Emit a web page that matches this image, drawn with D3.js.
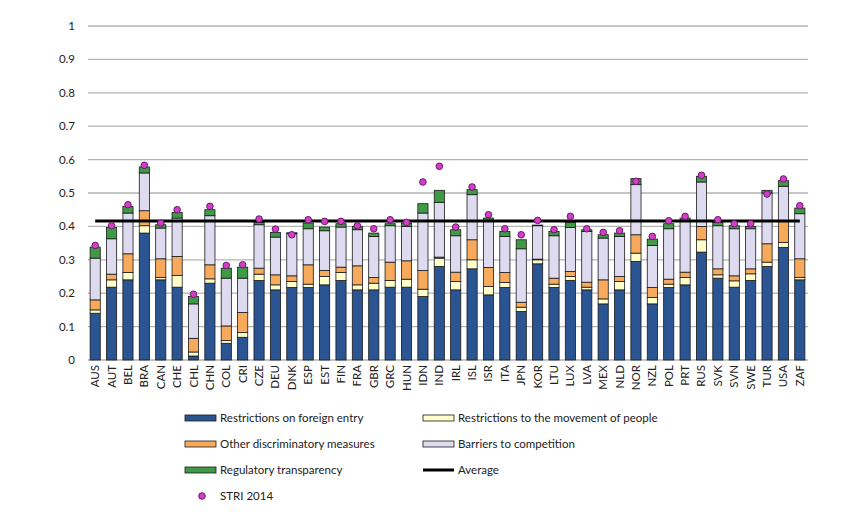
<!DOCTYPE html>
<html><head><meta charset="utf-8">
<script src="https://cdn.jsdelivr.net/npm/d3@7"></script>
<style>body{margin:0;background:#fff;} text{font-family:Lato, "Open Sans", sans-serif;}</style>
</head><body><svg id="c" width="868" height="512"></svg>
<script>
const countries = ["AUS","AUT","BEL","BRA","CAN","CHE","CHL","CHN","COL","CRI","CZE","DEU","DNK","ESP","EST","FIN","FRA","GBR","GRC","HUN","IDN","IND","IRL","ISL","ISR","ITA","JPN","KOR","LTU","LUX","LVA","MEX","NLD","NOR","NZL","POL","PRT","RUS","SVK","SVN","SWE","TUR","USA","ZAF"];
const foreignEntry = [0.14,0.218,0.24,0.38,0.24,0.218,0.012,0.23,0.05,0.068,0.238,0.21,0.217,0.217,0.225,0.238,0.21,0.21,0.218,0.218,0.19,0.28,0.21,0.273,0.195,0.217,0.145,0.288,0.217,0.238,0.21,0.168,0.21,0.295,0.168,0.217,0.225,0.323,0.245,0.218,0.238,0.28,0.337,0.24];
const movementPeople = [0.01,0.022,0.022,0.022,0.007,0.035,0.012,0.013,0.008,0.014,0.019,0.015,0.018,0.01,0.025,0.024,0.015,0.02,0.02,0.024,0.022,0.025,0.025,0.027,0.025,0.015,0.013,0.012,0.01,0.012,0.008,0.015,0.025,0.025,0.019,0.01,0.022,0.037,0.01,0.019,0.02,0.013,0.015,0.007];
const otherDiscrim = [0.03,0.017,0.056,0.045,0.056,0.057,0.041,0.042,0.044,0.06,0.018,0.03,0.017,0.058,0.018,0.016,0.057,0.017,0.055,0.055,0.056,0.003,0.028,0.06,0.057,0.03,0.015,0.002,0.018,0.015,0.015,0.057,0.015,0.055,0.03,0.015,0.016,0.04,0.018,0.015,0.015,0.055,0.063,0.056];
const competition = [0.125,0.106,0.122,0.113,0.092,0.115,0.103,0.147,0.143,0.103,0.13,0.113,0.126,0.108,0.119,0.12,0.108,0.123,0.109,0.103,0.172,0.164,0.109,0.135,0.138,0.108,0.16,0.1,0.127,0.132,0.152,0.125,0.12,0.15,0.126,0.151,0.152,0.133,0.129,0.141,0.12,0.152,0.105,0.135];
const transparency = [0.033,0.034,0.02,0.018,0.01,0.017,0.022,0.018,0.03,0.033,0.007,0.014,0.003,0.017,0.011,0.01,0.01,0.01,0.006,0.01,0.028,0.036,0.018,0.015,0.01,0.015,0.027,0.002,0.013,0.015,0.005,0.01,0.01,0.018,0.019,0.015,0.01,0.017,0.01,0.009,0.007,0.008,0.017,0.017];
const stri2014 = [0.343,0.402,0.465,0.583,0.41,0.45,0.197,0.46,0.283,0.285,0.422,0.392,0.375,0.42,0.415,0.415,0.402,0.393,0.42,0.412,0.533,0.58,0.398,0.518,0.435,0.393,0.375,0.418,0.39,0.43,0.393,0.382,0.387,0.535,0.37,0.417,0.43,0.553,0.42,0.408,0.408,0.497,0.542,0.462];
const average = 0.416;
const yTicks = [0,0.1,0.2,0.3,0.4,0.5,0.6,0.7,0.8,0.9,1];
const seriesNames = ["Restrictions on foreign entry","Restrictions to the movement of people","Other discriminatory measures","Barriers to competition","Regulatory transparency"];
const seriesColors = ["#2b5592","#ffffcc","#f8aa5c","#dedaf0","#3f9a46"];
const seriesData = [foreignEntry, movementPeople, otherDiscrim, competition, transparency];

const svg = d3.select("#c");
const x = d3.scaleBand().domain(countries).range([87, 808]).paddingInner(0.38).paddingOuter(0.19);
const y = d3.scaleLinear().domain([0,1]).range([360, 26]);

// gridlines
svg.append("g").selectAll("line").data(yTicks).join("line")
  .attr("x1", 88).attr("x2", 808).attr("y1", d=>y(d)).attr("y2", d=>y(d))
  .attr("stroke", "#b3b3b3").attr("stroke-width", 1.3);
svg.append("g").selectAll("text").data(yTicks).join("text")
  .attr("x", 75).attr("y", d=>y(d)+4).attr("text-anchor","end")
  .attr("font-size", 11.5).attr("fill","#222").text(d=>d3.format("~g")(d));

// stacked bars
const rows = countries.map((c,i)=>{ const o={country:c}; seriesNames.forEach((s,k)=>o[s]=seriesData[k][i]); return o; });
const stack = d3.stack().keys(seriesNames)(rows);
const gb = svg.append("g");
stack.forEach((layer,k)=>{
  gb.append("g").selectAll("rect").data(layer).join("rect")
    .attr("x", d=>x(d.data.country)).attr("width", x.bandwidth())
    .attr("y", d=>y(d[1])).attr("height", d=>Math.max(0,y(d[0])-y(d[1])))
    .attr("fill", seriesColors[k]).attr("stroke","#1a1a1a").attr("stroke-width",0.8);
});

// average line (from first to last bar centre)
svg.append("line").attr("x1", x(countries[0])+x.bandwidth()/2).attr("x2", x(countries[countries.length-1])+x.bandwidth()/2)
  .attr("y1", y(average)).attr("y2", y(average)).attr("stroke","#000").attr("stroke-width",3);

// STRI 2014 dots
svg.append("g").selectAll("circle").data(stri2014).join("circle")
  .attr("cx",(d,i)=>x(countries[i])+x.bandwidth()/2).attr("cy",d=>y(d)).attr("r",3.3)
  .attr("fill","#d13fc8").attr("stroke","#6b1a66").attr("stroke-width",1);

// x labels
svg.append("g").selectAll("text").data(countries).join("text")
  .attr("transform", d=>`translate(${x(d)+x.bandwidth()/2+4},365) rotate(-90)`)
  .attr("text-anchor","end").attr("font-size",11.5).attr("fill","#222").text(d=>d);

// legend
const leg = [
  {t:seriesNames[0], c:seriesColors[0], x:185, y:418, type:"rect"},
  {t:seriesNames[1], c:seriesColors[1], x:423, y:418, type:"rect"},
  {t:seriesNames[2], c:seriesColors[2], x:185, y:444, type:"rect"},
  {t:seriesNames[3], c:seriesColors[3], x:423, y:444, type:"rect"},
  {t:seriesNames[4], c:seriesColors[4], x:185, y:470, type:"rect"},
  {t:"Average", c:"#000", x:423, y:470, type:"line"},
  {t:"STRI 2014", c:"#d13fc8", x:185, y:496, type:"dot"}
];
const lg = svg.append("g");
leg.forEach(l=>{
  if(l.type==="rect") lg.append("rect").attr("x",l.x).attr("y",l.y-3).attr("width",31).attr("height",6).attr("fill",l.c).attr("stroke","#1a1a1a").attr("stroke-width",0.8);
  else if(l.type==="line") lg.append("line").attr("x1",l.x).attr("x2",l.x+31).attr("y1",l.y).attr("y2",l.y).attr("stroke","#000").attr("stroke-width",3);
  else lg.append("circle").attr("cx",l.x+17).attr("cy",l.y).attr("r",3.3).attr("fill",l.c).attr("stroke","#6b1a66").attr("stroke-width",1);
  lg.append("text").attr("x",l.x+35).attr("y",l.y+4).attr("font-size",11.5).attr("fill","#222").text(l.t);
});
</script></body></html>
